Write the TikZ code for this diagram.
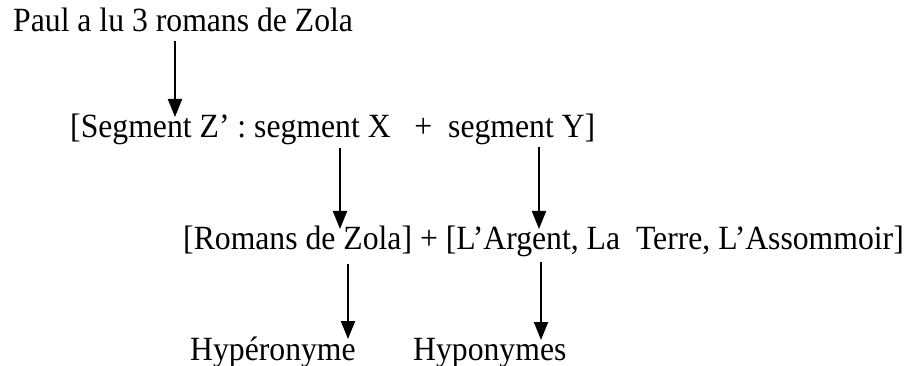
\documentclass[tikz,border=0pt]{standalone}
\usepackage{fontspec}
\usepackage{graphicx}
\setmainfont{Liberation Serif}
\usetikzlibrary{arrows.meta}
\newcommand{\tallbox}[1]{\scalebox{1}[1.07]{#1}}
\begin{document}
\begin{tikzpicture}[x=1pt,y=-1pt,
  txt/.style={anchor=base west,inner sep=0pt,font=\fontsize{31.7}{36}\selectfont},
  arr/.style={line width=2pt,-{Triangle[length=18pt,width=14pt]}}]
\useasboundingbox (0,0) rectangle (921,366);
\node[txt] (l1) at (13,32) {\tallbox{Paul a lu 3 romans de Zola}};
\node[txt] (l2) at (70,138) {\tallbox{[Segment Z’ : segment X\ \ \ +\ \ segment Y]}};
\node[txt] (l3) at (183,250) {\tallbox{[Romans de Zola] + [L’Argent, La\ \ Terre, L’Assommoir]}};
\node[txt] (h1) at (190,360) {\tallbox{Hypéronyme}};
\node[txt] (h2) at (413,360) {\tallbox{Hyponymes}};
\coordinate (a1s) at (175,41);
\coordinate (a1e) at (175,117);
\coordinate (a2s) at (340,148);
\coordinate (a2e) at (340,229);
\coordinate (a3s) at (539,147);
\coordinate (a3e) at (539,229);
\coordinate (a4s) at (348,264);
\coordinate (a4e) at (348,339);
\coordinate (a5s) at (541,262);
\coordinate (a5e) at (541,340);
\draw[arr] (a1s) -- (a1e);
\draw[arr] (a2s) -- (a2e);
\draw[arr] (a3s) -- (a3e);
\draw[arr] (a4s) -- (a4e);
\draw[arr] (a5s) -- (a5e);
\end{tikzpicture}
\end{document}
